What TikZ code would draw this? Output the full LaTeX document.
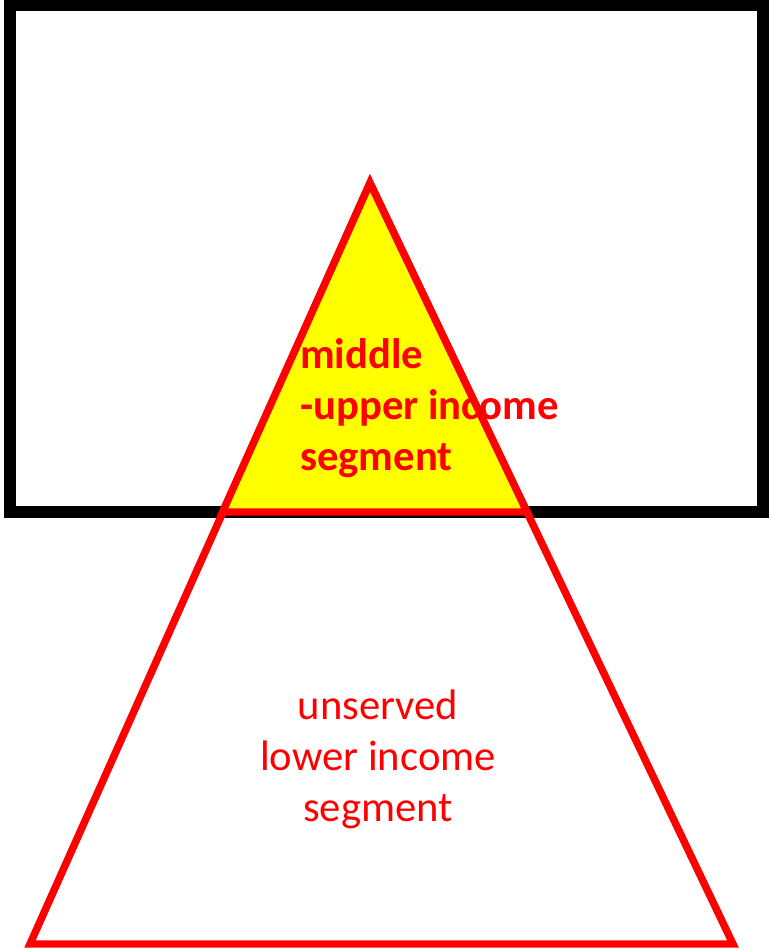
\documentclass[tikz,border=0pt]{standalone}
\usepackage{fontspec}
\setmainfont{Carlito}
\definecolor{pureyellow}{RGB}{255,255,0}
\definecolor{purered}{RGB}{255,0,0}
\begin{document}
\begin{tikzpicture}[x=0.75pt,y=-0.75pt,
  frame/.style={draw=black,line width=8.5pt},
  tri/.style={draw=purered,line width=5.6pt,line join=miter},
  lbl/.style={text=purered,inner sep=0pt,font=\fontsize{32}{38.25}\selectfont}]
\useasboundingbox (0,0) rectangle (769,949);
\coordinate (A) at (370,183);
\coordinate (L) at (30,944);
\coordinate (R) at (733,944);
\coordinate (ML) at (222.5,512);
\coordinate (MR) at (527,512);
\draw[frame] (10,5.5) rectangle (763,512);
\draw[tri] (A) -- (L) -- (R) -- cycle;
\draw[tri,fill=pureyellow] (A) -- (ML) -- (MR) -- cycle;
\node[lbl,font=\fontsize{32}{38.25}\selectfont\bfseries,align=left,anchor=west] (upper) at (300,408) {middle\\-upper income\\segment};
\node[lbl,align=center] (lower) at (378,759) {unserved\\lower income\\segment};
\end{tikzpicture}
\end{document}
